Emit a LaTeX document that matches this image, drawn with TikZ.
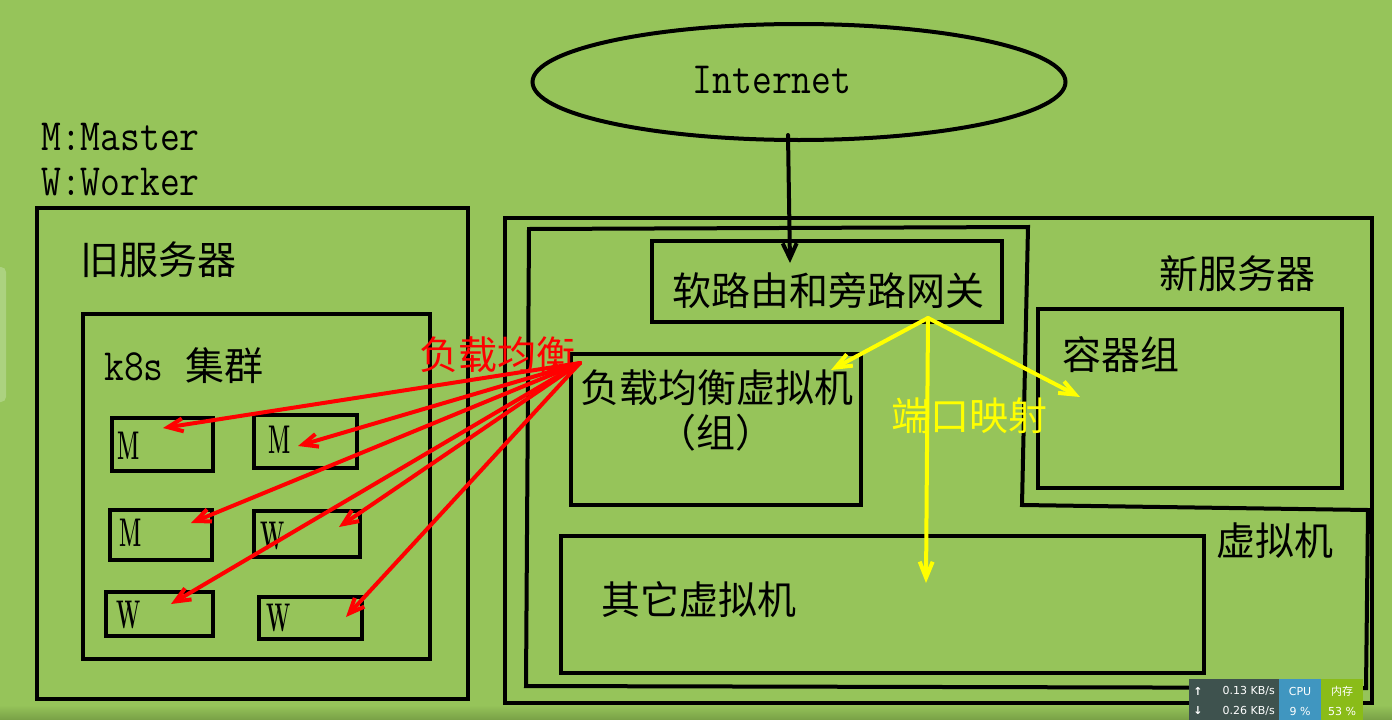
\documentclass[tikz,border=0pt]{standalone}
\usepackage{fontspec}
\newfontfamily\cjk{Noto Sans CJK SC}
\newfontfamily\dejavu{DejaVu Sans}
\usetikzlibrary{arrows.meta,shapes.geometric,positioning}
\definecolor{bggreen}{RGB}{150,196,90}
\definecolor{bgdark}{RGB}{120,160,70}
\definecolor{tabgreen}{RGB}{172,210,128}
\definecolor{lbred}{RGB}{255,0,0}
\definecolor{mapyellow}{RGB}{255,255,0}
\definecolor{barslate}{RGB}{62,82,78}
\definecolor{barblue}{RGB}{64,150,192}
\definecolor{barlime}{RGB}{138,188,24}
\newcommand{\slim}[1]{\scalebox{0.52}[1]{\bfseries\fontsize{40}{40}\selectfont #1}}
\newcommand{\tallmono}[1]{\scalebox{1}[1.16]{\ttfamily\fontsize{38.5}{38.5}\selectfont #1}}
\tikzset{
  frame/.style={draw=black, line width=4pt, inner sep=0pt, outer sep=0pt, anchor=north west},
  hanzi/.style={inner sep=0pt, font=\cjk\fontsize{39}{39}\selectfont},
  lbarrow/.style={draw=lbred, line width=4pt, line cap=round,
    -{Straight Barb[length=15pt,width=13pt]}},
  netarrow/.style={draw=black, line width=4pt, line cap=round,
    -{Straight Barb[length=15pt,width=14pt]}},
  maparrow/.style={draw=mapyellow, line width=4pt, line cap=round,
    -{Straight Barb[length=16pt,width=13pt]}},
  bartext/.style={inner sep=0pt, text=white, font=\dejavu\fontsize{11}{11}\selectfont}
}

\begin{document}
\begin{tikzpicture}[x=1pt, y=-1pt]
  \useasboundingbox (0,0) rectangle (1392,720);
  \fill[bggreen] (0,0) rectangle (1392,720);
  \shade[top color=bggreen, bottom color=bgdark] (0,705) rectangle (1392,720);
  \fill[tabgreen, rounded corners=5pt] (-10,267) rectangle (6,402);

  % legend
  \node[anchor=base west, inner sep=0pt] (legm) at (41,150) {\tallmono{M:Master}};
  \node[anchor=base west, inner sep=0pt] (legw) at (41,195) {\tallmono{W:Worker}};

  % internet
  \node[draw, ellipse, line width=4pt, minimum width=533, minimum height=116, inner sep=0pt] (inet) at (799,82) {};
  \node[anchor=base, inner sep=0pt] (inettext) at (772,93) {\tallmono{Internet}};

  % old server
  \node[frame, minimum width=431, minimum height=491] (oldsrv) at (37,208) {};
  \node[hanzi] (oldsrvlabel) at (158,260) {旧服务器};
  \node[frame, minimum width=347, minimum height=345] (k8s) at (83,314) {};
  \node[anchor=base west, inner sep=0pt] (k8slabel) at (104,380)
    {\tallmono{k8s}\hspace{22pt}{\cjk\fontsize{39}{39}\selectfont 集群}};
  \foreach \n/\x/\y/\w/\h/\l/\lx/\ly in {
      m1/112/418/101/53/M/129/446, m2/254/415/103/53/M/280/440,
      m3/110/510/102/50/M/131/533, w1/254/511/106/46/W/273/536,
      w2/106/592/107/44/W/129/615, w3/259/597/103/42/W/279/618}
  {
    \node[frame, minimum width=\w, minimum height=\h] (\n) at (\x,\y) {};
    \node[inner sep=0pt] (\n-label) at (\lx,\ly) {\slim{\l}};
  }

  % new server
  \node[frame, minimum width=867, minimum height=485] (newsrv) at (505,218) {};
  \draw[line width=4pt] (529,229) -- (1028,227) -- (1022,505) -- (1368,510)
    -- (1366,688) -- (526,686) -- cycle;
  \node[hanzi] (newsrvlabel) at (1237,274) {新服务器};
  \node[hanzi] (vmlabel) at (1275,541) {虚拟机};
  \node[frame, minimum width=350, minimum height=81] (gw) at (652,241) {};
  \node[hanzi] (gwlabel) at (828,291) {软路由和旁路网关};
  \node[frame, minimum width=290, minimum height=151] (lbvm) at (571,354) {};
  \node[hanzi] (lbvmlabel) at (717,388) {负载均衡虚拟机};
  \node[hanzi] (lbvmgroup) at (716,433) {（组）};
  \node[frame, minimum width=304, minimum height=179] (pods) at (1038,309) {};
  \node[hanzi] (podslabel) at (1121,355) {容器组};
  \node[frame, minimum width=643, minimum height=137] (othervm) at (561,536) {};
  \node[hanzi] (othervmlabel) at (699,600) {其它虚拟机};

  % internet -> gateway
  \coordinate (gwtip) at (790,263);
  \draw[netarrow] ([shift={(-11,-7)}]inet.south) -- (gwtip);

  % port mapping
  \coordinate (gwsrc) at (928,318);
  \coordinate (lbvmtip) at (831,370);
  \coordinate (othertip) at (926,583);
  \coordinate (podstip) at (1080,397);
  \foreach \t in {lbvmtip,othertip,podstip}
    \draw[maparrow] (gwsrc) -- (\t);
  \node[hanzi, text=mapyellow] (maplabel) at (969,416) {端口映射};

  % load balancing
  \coordinate (lbsrc) at (580,363);
  \foreach \n/\tx/\ty in {m1/163/428, m2/298/446, m3/191/523,
      w1/339/527, w2/171/604, w3/346/617}
  {
    \coordinate (\n-tip) at (\tx,\ty);
    \draw[lbarrow] (lbsrc) -- (\n-tip);
  }
  \node[hanzi, text=lbred] (lblabel) at (497,355) {负载均衡};

  % status bar
  \fill[barslate] (1189,679) rectangle (1279,720);
  \fill[barblue] (1279,679) rectangle (1321,720);
  \fill[barlime] (1321,679) rectangle (1363,720);
  \node[bartext] (upicon) at (1198,691) {\textbf{↑}};
  \node[bartext, anchor=east] (netup) at (1275,691) {0.13 KB/s};
  \node[bartext] (downicon) at (1198,711) {\textbf{↓}};
  \node[bartext, anchor=east] (netdown) at (1275,711) {0.26 KB/s};
  \node[bartext] (cpulabel) at (1300,691) {CPU};
  \node[bartext] (cpuval) at (1300,711) {9 \%};
  \node[bartext] (memlabel) at (1342,691) {\cjk 内存};
  \node[bartext] (memval) at (1342,711) {53 \%};
\end{tikzpicture}
\end{document}
